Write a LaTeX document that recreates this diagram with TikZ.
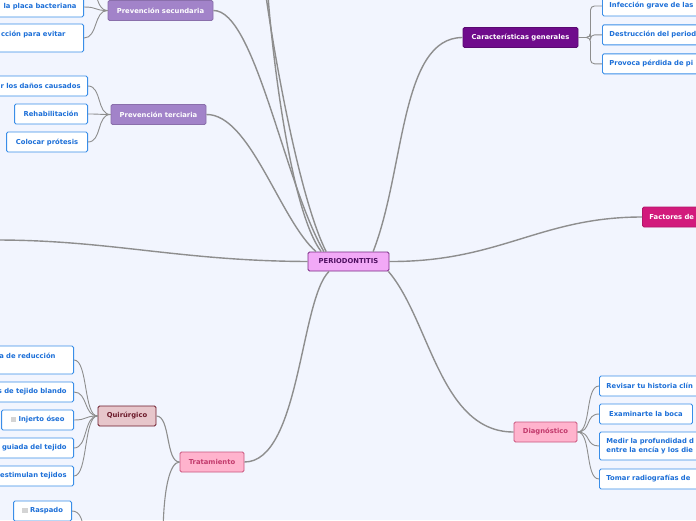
\documentclass[tikz,border=0pt]{standalone}
\usepackage{fontspec}
\newfontfamily\mapsans{DejaVu Sans}
\usetikzlibrary{positioning}
\definecolor{MapBg}{HTML}{F2F5FE}
\definecolor{LinkGray}{HTML}{8E8E8E}
\definecolor{LeafBlue}{HTML}{3A8EE8}
\definecolor{LeafText}{HTML}{1C6FD8}
\definecolor{RootFill}{HTML}{F2A9F7}
\definecolor{RootLine}{HTML}{7A2B85}
\definecolor{RootText}{HTML}{4E0F60}
\definecolor{TopicPlum}{HTML}{6F0B8C}
\definecolor{TopicMagenta}{HTML}{D21A7C}
\definecolor{TopicLavender}{HTML}{A283C9}
\definecolor{PinkFill}{HTML}{FFB3CD}
\definecolor{PinkLine}{HTML}{C9567F}
\definecolor{PinkText}{HTML}{C23A6C}
\definecolor{RoseFill}{HTML}{E7C6CB}
\definecolor{Maroon}{HTML}{6B1A2A}
\definecolor{CheckGray}{HTML}{D4D4D4}
\newcommand{\mapfont}{\mapsans\bfseries\fontsize{6.8}{8.4}\selectfont}
\newcommand{\mapcheck}{{\color{CheckGray}\rule[-0.4pt]{5.5pt}{5.5pt}}\hspace{2.5pt}}

\begin{document}
\begin{tikzpicture}[
  x=1pt, y=-1pt,
  link/.style={draw=LinkGray, line width=1.4pt},
  branch/.style={draw=LinkGray, line width=1.1pt},
  twig/.style={draw=LinkGray, line width=0.9pt},
  topic/.style={rectangle, rounded corners=1.5pt, line width=0.9pt, font=\mapfont, minimum height=20pt, inner xsep=7pt, inner ysep=2pt},
  pinkbox/.style={topic, fill=PinkFill, draw=PinkLine, text=PinkText},
  lavbox/.style={topic, fill=TopicLavender, draw=TopicLavender!85!black, text=white},
  leaf/.style={topic, draw=LeafBlue, fill=white, text=LeafText},
  cutleft/.style={leaf, text width=#1, align=right, anchor=east},
  cutright/.style={leaf, text width=#1, align=left, anchor=west},
  tall/.style={minimum height=28pt}
]
  \useasboundingbox (0,0) rectangle (696,520);
  \fill[MapBg] (0,0) rectangle (696,520);

  % main topics
  \node[topic, draw=RootLine, fill=RootFill, text=RootText, minimum width=81pt, minimum height=19pt] (perio) at (348.5,261.5) {PERIODONTITIS};
  \node[topic, fill=TopicPlum, draw=TopicPlum!80!black, text=white, minimum width=115pt] (carac) at (520.5,37.5) {Características generales};
  \node[topic, fill=TopicMagenta, draw=TopicMagenta!85!black, text=white, anchor=west, text width=80pt, align=left] (factores) at (642,217) {Factores de};
  \node[pinkbox, minimum width=63pt] (diag) at (545.5,432) {Diagnóstico};
  \node[pinkbox, minimum width=64pt] (trat) at (212,462) {Tratamiento};
  \node[topic, fill=RoseFill, draw=Maroon, text=Maroon, minimum width=58pt] (quir) at (127,416) {Quirúrgico};
  \node[lavbox, minimum width=105pt] (prevsec) at (160.5,10.5) {Prevención secundaria};
  \node[lavbox, minimum width=95pt] (prevter) at (158.5,114.5) {Prevención terciaria};

  % leaves
  \node[cutright=120pt] (infec) at (602,6) {Infección grave de las};
  \node[cutright=120pt, below=8pt of infec.south west, anchor=north west] (destr) {Destrucción del periodo};
  \node[cutright=120pt, below=8pt of destr.south west, anchor=north west] (perdida) {Provoca pérdida de pi};

  \node[cutright=120pt] (historia) at (599,386) {Revisar tu historia clín};
  \node[leaf, anchor=west, minimum width=93pt] (boca) at (599,414) {Examinarte la boca};
  \node[cutright=120pt, tall] (medir) at (599,446) {Medir la profundidad d\\entre la encía y los die};
  \node[cutright=120pt] (radio) at (599,479) {Tomar radiografías de};

  \node[cutleft=150pt, tall] (reduc) at (74,360) {a de reducción\rule{11pt}{0pt}\\\mbox{}};
  \node[cutleft=150pt] (blando) at (74,392) {s de tejido blando};
  \node[leaf, anchor=east, minimum width=72pt] (injerto) at (74,420) {\mapcheck Injerto óseo};
  \node[cutleft=150pt] (guiada) at (74,448) {guiada del tejido};
  \node[cutleft=150pt] (estim) at (74,476) {estimulan tejidos};
  \node[leaf, anchor=east, minimum width=58pt] (raspado) at (72,511) {\mapcheck Raspado};

  \node[cutleft=150pt] (placa) at (84,7) {la placa bacteriana};
  \node[cutleft=150pt, tall] (evitar) at (84,38) {cción para evitar\rule{11pt}{0pt}\\\mbox{}};

  \node[cutleft=150pt] (danos) at (88,86) {r los daños causados};
  \node[leaf, anchor=east, minimum width=73pt] (rehab) at (88,114) {Rehabilitación};
  \node[leaf, anchor=east, minimum width=81pt] (protesis) at (88,142) {Colocar prótesis};

  % loose ends leaving the page
  \coordinate (secup) at (84,-22);
  \coordinate (topA) at (266,-4);
  \coordinate (topB) at (268,-4);
  \coordinate (leftend) at (-4,240);
  \coordinate (tratdown) at (163,540);
  \coordinate (raspdown) at (84,540);

  % main branches
  \draw[link] (perio.22) .. controls (405,170) and (400,37.5) .. (carac.west);
  \draw[link] (perio.east) .. controls (500,262) and (540,217) .. (factores.west);
  \draw[link] (perio.-14) .. controls (430,320) and (440,432) .. (diag.west);
  \draw[link] (perio.-153) .. controls (300,300) and (300,462) .. (trat.east);
  \draw[link] (perio.west) .. controls (180,261) and (110,240) .. (leftend);
  \draw[link] (perio.163) .. controls (280,220) and (250,114) .. (prevter.east);
  \draw[link] (perio.158) .. controls (285,185) and (255,10) .. (prevsec.east);
  \draw[link] (perio.156) .. controls (300,200) and (275,60) .. (topA);
  \draw[link] (perio.160) .. controls (290,210) and (272,50) .. (topB);

  % sub branches
  \draw[branch] (trat.west) .. controls +(-14,0) and +(14,0) .. (quir.east);
  \draw[branch] (trat.west) .. controls +(-10,0) and +(0,-50) .. (tratdown);

  % twigs
  \foreach \leafname in {infec,destr,perdida}
    \draw[twig, rounded corners=4pt] (carac.east) -- +(12,0) |- (\leafname.west);
  \foreach \leafname in {historia,boca,medir,radio}
    \draw[twig] (diag.east) .. controls +(14,0) and +(-14,0) .. (\leafname.west);
  \foreach \leafname in {reduc,blando,injerto,guiada,estim}
    \draw[twig] (quir.west) .. controls +(-14,0) and +(14,0) .. (\leafname.east);
  \foreach \leafname in {placa,evitar,secup}
    \draw[twig] (prevsec.west) .. controls +(-14,0) and +(14,0) .. (\leafname.east);
  \foreach \leafname in {danos,rehab,protesis}
    \draw[twig] (prevter.west) .. controls +(-14,0) and +(14,0) .. (\leafname.east);
  \draw[twig] (raspado.east) .. controls +(8,0) and +(0,-20) .. (raspdown);
\end{tikzpicture}
\end{document}
